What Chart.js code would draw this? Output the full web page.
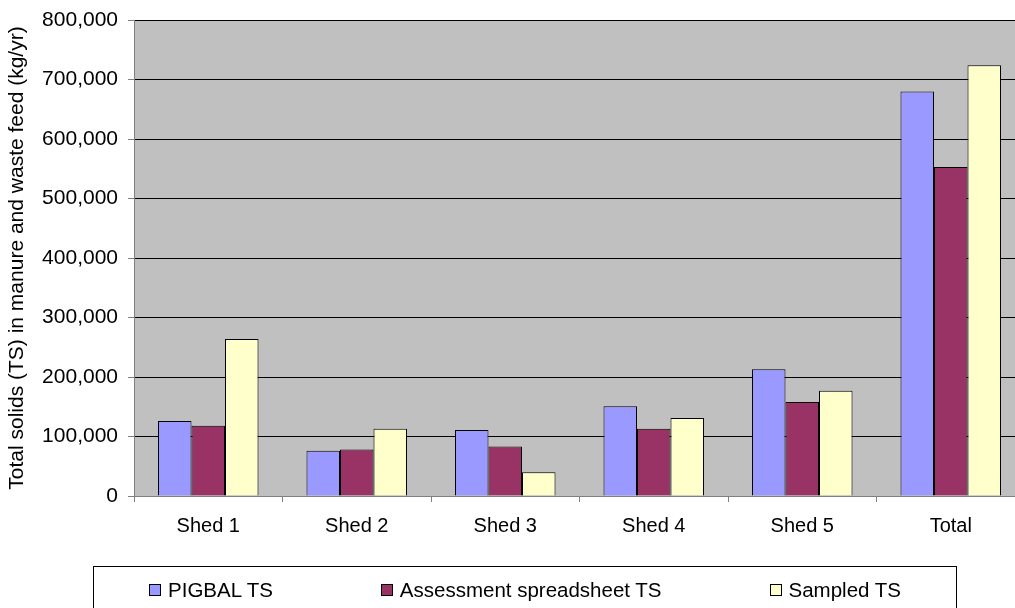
<!DOCTYPE html>
<html lang="en">
<head>
<meta charset="UTF-8">
<title>Total solids</title>
<script src="https://cdn.jsdelivr.net/npm/chart.js"></script>
<style>
    html, body { margin: 0; padding: 0; background: #fff; overflow: hidden; }
    #wrap { position: relative; width: 1030px; height: 608px; }
    #legend {
        position: absolute; left: 93px; top: 566px; width: 864px; height: 60px;
        border: 1px solid #000; box-sizing: border-box;
        font: 20.5px "Liberation Sans", Arial, sans-serif; color: #000; line-height: 24px;
        display: flex; justify-content: center; align-items: flex-start; gap: 108px; padding-top: 11px;
    }
    #legend span.item { display: flex; align-items: center; white-space: nowrap; }
    #legend span.box { width: 10px; height: 10px; border: 1px solid #000; margin-right: 7px; }
</style>
</head>
<body>
<div id="wrap">
    <canvas id="chart"></canvas>
    <div id="legend"></div>
</div>
<script>
// categories and series (kg/yr)
var sheds = ['Shed 1', 'Shed 2', 'Shed 3', 'Shed 4', 'Shed 5', 'Total'];
var pigbalTS = [126000, 76000, 111000, 151000, 213000, 680000];
var assessmentTS = [118000, 78000, 83000, 113000, 158000, 553000];
var sampledTS = [264000, 113000, 40000, 131000, 177000, 724000];
var yTicks = [0, 100000, 200000, 300000, 400000, 500000, 600000, 700000, 800000];

var seriesNames = ['PIGBAL TS', 'Assessment spreadsheet TS', 'Sampled TS'];
var seriesColors = ['#9999FF', '#993366', '#FFFFCC'];

var fam = '"Liberation Sans", Arial, sans-serif';
var xFont = { family: fam, size: 20 };
var yFont = { family: fam, size: 21 };

// grey plot area like the spreadsheet
var plotBg = {
    id: 'plotBg',
    beforeDraw: function(chart) {
        var a = chart.chartArea, c = chart.ctx;
        c.save();
        c.fillStyle = '#C0C0C0';
        c.fillRect(a.left, a.top, a.right - a.left, a.bottom - a.top);
        c.strokeStyle = '#808080';
        c.lineWidth = 1;
        c.strokeRect(a.left + 0.5, a.top + 0.5, a.right - a.left, a.bottom - a.top);
        c.restore();
    }
};

var allSeries = [pigbalTS, assessmentTS, sampledTS];
var datasets = allSeries.map(function(d, i) {
    return {
        label: seriesNames[i],
        data: d,
        backgroundColor: seriesColors[i],
        borderColor: '#000',
        borderWidth: 1,
        categoryPercentage: 0.677,
        barPercentage: 1.0
    };
});

new Chart(document.getElementById('chart'), {
    type: 'bar',
    data: { labels: sheds, datasets: datasets },
    plugins: [plotBg],
    options: {
        responsive: true,
        maintainAspectRatio: false,
        animation: false,
        layout: { padding: { top: 20, right: 5, left: 0, bottom: 0 } },
        plugins: {
            legend: { display: false },
            tooltip: { enabled: false }
        },
        scales: {
            x: {
                grid: { drawOnChartArea: false, offset: true, tickLength: 6, tickColor: '#808080' },
                border: { color: '#808080' },
                ticks: { color: '#000', font: xFont, padding: 12, maxRotation: 0 },
                afterFit: function(s) { s.height = 112; }
            },
            y: {
                min: 0, max: 800000,
                afterBuildTicks: function(s) { s.ticks = yTicks.map(function(v) { return { value: v }; }); },
                grid: { color: '#000', tickLength: 6, tickColor: '#808080' },
                border: { color: '#808080' },
                ticks: {
                    color: '#000', font: yFont, padding: 10,
                    callback: function(v) { return v.toLocaleString('en-US'); }
                },
                title: {
                    display: true,
                    text: 'Total solids (TS) in manure and waste feed (kg/yr)',
                    color: '#000', font: yFont, padding: { top: 5, bottom: 0 }
                },
                afterFit: function(s) { s.width = 134; s.paddingTop = 0; s.paddingBottom = 0; }
            }
        }
    }
});

// legend as plain html, framed like the original
var lg = document.getElementById('legend');
seriesNames.forEach(function(n, i) {
    lg.innerHTML += '<span class="item"><span class="box" style="background:' + seriesColors[i] + '"></span>' + n + '</span>';
});
</script>
</body>
</html>
